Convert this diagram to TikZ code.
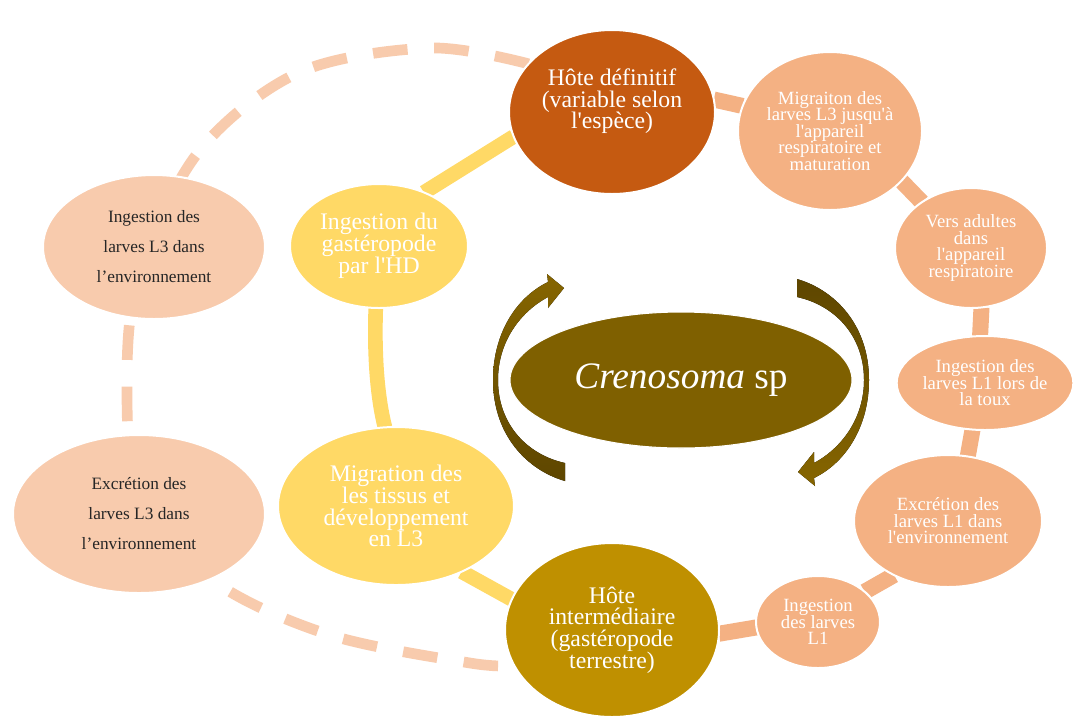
\documentclass[tikz,border=0pt]{standalone}
\usepackage{fontspec}
\setmainfont{Liberation Serif}
\usetikzlibrary{shapes.geometric,backgrounds}
\definecolor{cHD}{HTML}{C55A11}
\definecolor{cSal}{HTML}{F4B183}
\definecolor{cHI}{HTML}{BF9000}
\definecolor{cYel}{HTML}{FFD966}
\definecolor{cPea}{HTML}{F8CBAD}
\definecolor{cCen}{HTML}{7F6000}
\definecolor{cArrL}{HTML}{866500}
\definecolor{cArrD}{HTML}{5E4600}
\newcommand\apos{\textquotesingle}
\begin{document}
\begin{tikzpicture}[x=0.75pt,y=-0.75pt,
  ell/.style 2 args={ellipse, inner sep=0pt, outer sep=0pt, minimum width=#1*1.5pt, minimum height=#2*1.5pt, draw=white, line width=1.5pt, align=center},
  bigtxt/.style={text=white, font={\fontsize{17.8}{16.3}\selectfont\lineskiplimit=-8pt}},
  smalltxt/.style={text=white, font={\fontsize{14}{12.4}\selectfont\lineskiplimit=-8pt}},
  blacktxt/.style={text=black!85, font={\fontsize{13}{22.5}\selectfont}},
  yband/.style={draw=cYel, line width=11pt},
  sband/.style={draw=cSal, line width=12pt},
  loopband/.style={draw=cPea, line width=8pt, dash pattern=on 26pt off 20pt},
]
\useasboundingbox (0,0) rectangle (1073,719);

\node[ell={103}{82}, fill=cHD, bigtxt, text depth=20pt] (HD) at (612,112) {Hôte définitif\\(variable selon\\l\apos espèce)};
\node[ell={92}{79}, fill=cSal, smalltxt] (mL3) at (830,131) {Migraiton des\\larves L3 jusqu\apos à\\l\apos appareil\\respiratoire et\\maturation};
\node[ell={76}{60}, fill=cSal, smalltxt] (vers) at (971,248) {Vers adultes\\dans\\l\apos appareil\\respiratoire};
\node[ell={88}{47}, fill=cSal, smalltxt] (toux) at (985,383) {Ingestion des\\larves L1 lors de\\la toux};
\node[ell={94}{66}, fill=cSal, smalltxt] (excL1) at (948,521) {Excrétion des\\larves L1 dans\\l\apos environnement};
\node[ell={62}{46}, fill=cSal, smalltxt] (ingL1) at (818,622) {Ingestion\\des larves\\L1};
\node[ell={107}{87}, fill=cHI, bigtxt] (HI) at (612,630) {Hôte\\intermédiaire\\(gastéropode\\terrestre)};
\node[ell={118}{79}, fill=cYel, bigtxt] (tis) at (396,506) {Migration des\\les tissus et\\développement\\en L3};
\node[ell={89}{62}, fill=cYel, bigtxt] (gast) at (379,246) {Ingestion du\\gastéropode\\par l\apos HD};
\node[ell={111}{72}, fill=cPea, blacktxt] (ingL3) at (154,247) {Ingestion des\\larves L3 dans\\l’environnement};
\node[ell={126}{79}, fill=cPea, blacktxt] (excL3) at (139,514) {Excrétion des\\larves L3 dans\\l’environnement};
\node[ell={171}{68}, fill=cCen, line width=0.8pt, text=white, font=\fontsize{28}{30}\selectfont] (cen) at (681,380) {\textit{Crenosoma} sp};

\begin{pgfonlayer}{background}
\fill[white] (0,0) rectangle (1073,719);
\draw[loopband] plot[smooth, tension=0.55] coordinates {(HD.150) (430,48) (300,72) (200,150) (140,270) (127,380) (140,500) (215,582) (330,635) (470,663) (HI.200)};
\draw[yband] (gast.50) -- (HD.194);
\draw[yband] (gast.-93) .. controls (374,360) and (378,400) .. (tis.98);
\draw[yband] (tis.-45) -- (HI.163);
\draw[sband] (HD.7) -- (mL3.164);
\draw[sband] (mL3.-35) -- (vers.137);
\draw[sband] (vers.-80) -- (toux.96);
\draw[sband] (toux.-105) -- (excL1.73);
\draw[sband] (excL1.-135) -- (ingL1.33);
\draw[sband] (ingL1.185) -- (HI.-2);
\end{pgfonlayer}

\fill[top color=cArrL, bottom color=cArrD] (565,481) .. controls (527,470) and (493,435) .. (493,380) .. controls (493,335) and (515,298) .. (548,282) -- (547,274) -- (564,288) -- (548,308) -- (548,297) .. controls (520,312) and (498,342) .. (498,380) .. controls (498,425) and (528,455) .. (565,463) -- cycle;
\fill[top color=cArrD, bottom color=cArrL] (797,279) .. controls (835,290) and (869,325) .. (869,380) .. controls (869,425) and (847,462) .. (814,478) -- (815,486) -- (798,472) -- (814,452) -- (814,463) .. controls (842,448) and (864,418) .. (864,380) .. controls (864,335) and (834,305) .. (797,297) -- cycle;
\end{tikzpicture}
\end{document}
